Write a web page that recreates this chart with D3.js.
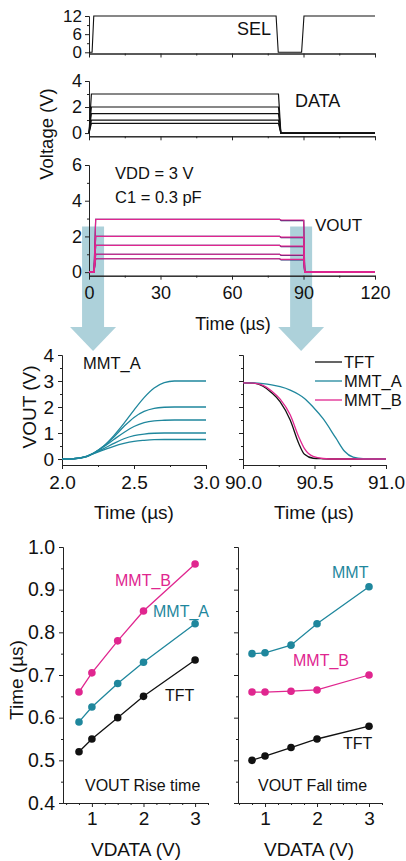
<!DOCTYPE html>
<html>
<head>
<meta charset="utf-8">
<script src="https://cdn.jsdelivr.net/npm/d3@7"></script>
<style>
  body { margin: 0; background: #fff; }
  svg { display: block; font-family: "Liberation Sans", Arial, sans-serif; }
  .axis path, .axis line { stroke: #222; stroke-width: 1; }
  .axis text { fill: #111; }
</style>
</head>
<body>
<svg width="406" height="861"></svg>
<script>
// ---- data ----
// top: waveforms vs time (us)
var selT = [0, 1.3, 2, 78.5, 79.4, 89.2, 90.2, 120];
var selV = [0, 0, 12, 12, 0, 0, 12, 12];

var dataT = [0, 1, 79.5, 80.5, 120];
var dataWave = [
  [0, 0.75, 0.75, 0, 0],
  [0, 1, 1, 0, 0],
  [0, 1.5, 1.5, 0, 0],
  [0, 2, 2, 0, 0],
  [0, 3, 3, 0, 0]
];

var voutT = [0, 2.1, 2.8, 80, 80.6, 90.1, 90.5, 120];
var voutDark = [
  [0, 0, 0.75, 0.75, 0.68, 0.68, 0, 0],
  [0, 0, 1, 1, 0.93, 0.93, 0, 0],
  [0, 0, 1.5, 1.5, 1.43, 1.43, 0, 0],
  [0, 0, 2, 2, 1.93, 1.93, 0, 0],
  [0, 0, 2.96, 2.96, 2.89, 2.89, 0, 0]
];
var voutPink = [
  [0, 0, 0.75, 0.75, 0.71, 0.71, 0, 0],
  [0, 0, 1, 1, 0.96, 0.96, 0, 0],
  [0, 0, 1.5, 1.5, 1.46, 1.46, 0, 0],
  [0, 0, 2, 2, 1.96, 1.96, 0, 0],
  [0, 0, 2.96, 2.96, 2.92, 2.92, 0, 0]
];

// middle left: MMT_A rise
var riseT = [2.0, 2.08, 2.17, 2.22, 2.29, 2.36, 2.43, 2.5, 2.57, 2.64, 2.71, 2.78, 3.0];
var riseCurves = [
  [0, 0.01, 0.1, 0.21, 0.35, 0.49, 0.6, 0.68, 0.72, 0.745, 0.75, 0.75, 0.75],
  [0, 0.01, 0.1, 0.22, 0.4, 0.6, 0.78, 0.9, 0.96, 0.99, 1.0, 1.0, 1.0],
  [0, 0.01, 0.1, 0.23, 0.47, 0.75, 1.02, 1.25, 1.4, 1.47, 1.49, 1.5, 1.5],
  [0, 0.01, 0.09, 0.23, 0.5, 0.85, 1.25, 1.6, 1.83, 1.95, 1.99, 2.0, 2.0],
  [0, 0.01, 0.08, 0.22, 0.5, 0.9, 1.37, 1.88, 2.36, 2.73, 2.94, 3.0, 3.0]
];

// middle right: fall
var fallT = [90.0, 90.07, 90.14, 90.2, 90.26, 90.33, 90.39, 90.43, 90.49, 90.56, 90.65, 90.71, 90.77, 90.84, 91.0];
var fallTFTc = [2.93, 2.92, 2.8, 2.55, 2.2, 1.5, 0.6, 0.18, 0.03, 0.01, 0, 0, 0, 0, 0];
var fallAc = [2.93, 2.93, 2.9, 2.85, 2.78, 2.65, 2.48, 2.33, 2.0, 1.55, 0.8, 0.3, 0.07, 0.01, 0];
var fallBc = [2.93, 2.92, 2.83, 2.62, 2.3, 1.7, 0.85, 0.4, 0.1, 0.02, 0, 0, 0, 0, 0];
var legendNames = ["TFT", "MMT_A", "MMT_B"];

// bottom: rise / fall time vs VDATA
var vdata = [0.75, 1, 1.5, 2, 3];
var riseTFT = [0.52, 0.55, 0.60, 0.65, 0.735];
var riseA = [0.59, 0.625, 0.68, 0.73, 0.82];
var riseB = [0.66, 0.705, 0.78, 0.85, 0.96];
var fallTFT = [0.50, 0.51, 0.53, 0.55, 0.58];
var fallA = [0.75, 0.752, 0.77, 0.82, 0.907];
var fallB = [0.66, 0.66, 0.662, 0.665, 0.70];

var TEAL = "#1f879d", PINK = "#e0268f", BLACK = "#111";
var FONT = "'Liberation Sans', Arial, sans-serif";

var svg = d3.select("svg");

function axes(x, y, o) {
  var y0 = y.range()[0], x0 = x.range()[0];
  svg.append("g").attr("class", "axis").attr("transform", "translate(0," + y0 + ")")
    .call(d3.axisBottom(x).tickValues(o.xMinor).tickSize(2).tickFormat("").tickSizeOuter(0));
  svg.append("g").attr("class", "axis").attr("transform", "translate(0," + y0 + ")")
    .call(d3.axisBottom(x).tickValues(o.xMajor).tickSize(4).tickPadding(o.xPad || 6)
      .tickFormat(o.xFmt || "").tickSizeOuter(0))
    .attr("font-family", FONT).attr("font-size", o.xFont || 18);
  svg.append("g").attr("class", "axis").attr("transform", "translate(" + x0 + ",0)")
    .call(d3.axisLeft(y).tickValues(o.yMinor).tickSize(2).tickFormat("").tickSizeOuter(0));
  svg.append("g").attr("class", "axis").attr("transform", "translate(" + x0 + ",0)")
    .call(d3.axisLeft(y).tickValues(o.yMajor).tickSize(4).tickPadding(o.yPad || 4)
      .tickFormat(o.yFmt || "").tickSizeOuter(0))
    .attr("font-family", FONT).attr("font-size", o.yFont || 18);
}

function label(x, y, txt, size, color, anchor, rot) {
  var t = svg.append("text")
    .attr("font-size", size).attr("fill", color || BLACK)
    .attr("text-anchor", anchor || "start")
    .text(txt);
  if (rot) t.attr("transform", "translate(" + x + "," + y + ") rotate(-90)");
  else t.attr("x", x).attr("y", y);
  return t;
}

function lineOf(x, y, xs, curve) {
  return d3.line()
    .x(function (d, i) { return x(xs[i]); })
    .y(function (d) { return y(d); })
    .curve(curve || d3.curveLinear);
}

// ---- top three panels ----
var xTop = d3.scaleLinear().domain([0, 120]).range([89, 375]);
var ySel = d3.scaleLinear().domain([-0.4, 12]).range([53.5, 16]);
var yData = d3.scaleLinear().domain([-0.25, 4]).range([136.3, 81]);
var yVout = d3.scaleLinear().domain([-0.2, 6]).range([275.7, 165]);

// light-blue arrows (behind everything)
var arrowT = [1.7, 89];
var arrowTop = yVout(2.55);
arrowT.forEach(function (t) {
  var cx = xTop(t);
  var pts = [[cx - 11, arrowTop], [cx + 11, arrowTop], [cx + 11, 327], [cx + 23, 327],
             [cx, 351], [cx - 23, 327], [cx - 11, 327]];
  svg.append("polygon").attr("points", pts.map(function (p) { return p.join(","); }).join(" "))
    .attr("fill", "#a9cfd8").attr("opacity", 0.95);
});

var topTicks = { xMajor: [0, 30, 60, 90, 120], xMinor: [15, 45, 75, 105] };

axes(xTop, ySel, { xMajor: topTicks.xMajor, xMinor: topTicks.xMinor,
  yMajor: [0, 6, 12], yMinor: [3, 9], yFmt: d3.format("d"), yFont: 17, yPad: 3 });
axes(xTop, yData, { xMajor: topTicks.xMajor, xMinor: topTicks.xMinor,
  yMajor: [0, 2, 4], yMinor: [1, 3], yFmt: d3.format("d"), yFont: 18, yPad: 3 });
axes(xTop, yVout, { xMajor: topTicks.xMajor, xMinor: topTicks.xMinor, xFmt: d3.format("d"), xPad: 7,
  yMajor: [0, 2, 4, 6], yMinor: [1, 3, 5], yFmt: d3.format("d"), yFont: 18, yPad: 3 });

svg.append("path").datum(selV).attr("d", lineOf(xTop, ySel, selT))
  .attr("fill", "none").attr("stroke", BLACK).attr("stroke-width", 1.1);

dataWave.forEach(function (w) {
  svg.append("path").datum(w).attr("d", lineOf(xTop, yData, dataT))
    .attr("fill", "none").attr("stroke", BLACK).attr("stroke-width", 1.2);
});

voutDark.forEach(function (w) {
  svg.append("path").datum(w).attr("d", lineOf(xTop, yVout, voutT))
    .attr("fill", "none").attr("stroke", "#2b2a6e").attr("stroke-width", 1.2);
});
voutPink.forEach(function (w) {
  svg.append("path").datum(w).attr("d", lineOf(xTop, yVout, voutT))
    .attr("fill", "none").attr("stroke", PINK).attr("stroke-width", 1.2);
});

label(237, 35, "SEL", 18);
label(295, 107, "DATA", 18);
label(315, 231, "VOUT", 17);
label(115, 179, "VDD = 3 V", 16.5);
label(115, 203, "C1 = 0.3 pF", 16.5);
label(53, 134, "Voltage (V)", 18.5, BLACK, "middle", true);
label(233, 330, "Time (\u00b5s)", 18, BLACK, "middle");

// ---- middle panels ----
var yMid = d3.scaleLinear().domain([-0.23, 4]).range([465, 355]);
var xRise = d3.scaleLinear().domain([2, 3]).range([62, 206]);
var xFall = d3.scaleLinear().domain([90, 91]).range([243, 386]);

axes(xRise, yMid, { xMajor: [2, 2.5, 3], xMinor: [2.25, 2.75], xFmt: d3.format(".1f"), xFont: 19, xPad: 7,
  yMajor: [0, 1, 2, 3, 4], yMinor: [0.5, 1.5, 2.5, 3.5], yFmt: d3.format("d"), yFont: 19, yPad: 4 });
axes(xFall, yMid, { xMajor: [90, 90.5, 91], xMinor: [90.25, 90.75], xFmt: d3.format(".1f"), xFont: 19, xPad: 7,
  yMajor: [0, 1, 2, 3, 4], yMinor: [0.5, 1.5, 2.5, 3.5] });

riseCurves.forEach(function (c) {
  svg.append("path").datum(c).attr("d", lineOf(xRise, yMid, riseT, d3.curveMonotoneX))
    .attr("fill", "none").attr("stroke", TEAL).attr("stroke-width", 1.3);
});

[[fallTFTc, BLACK], [fallAc, TEAL], [fallBc, PINK]].forEach(function (s) {
  svg.append("path").datum(s[0]).attr("d", lineOf(xFall, yMid, fallT, d3.curveMonotoneX))
    .attr("fill", "none").attr("stroke", s[1]).attr("stroke-width", 1.3);
});

var legColors = [BLACK, TEAL, PINK];
legendNames.forEach(function (n, i) {
  var ly = 362 + i * 19;
  svg.append("line").attr("x1", 315).attr("x2", 342).attr("y1", ly).attr("y2", ly)
    .attr("stroke", legColors[i]).attr("stroke-width", 1.3);
  label(344, ly + 6, n, 16.5);
});

label(83, 369, "MMT_A", 16.5);
label(36, 407, "VOUT (V)", 19, BLACK, "middle", true);
label(134, 519, "Time (\u00b5s)", 19, BLACK, "middle");
label(314, 519, "Time (\u00b5s)", 19, BLACK, "middle");

// ---- bottom panels ----
var yTime = d3.scaleLinear().domain([0.4, 1.0]).range([803, 547]);
var xL = d3.scaleLinear().domain([0.44, 3.25]).range([63, 208]);
var xR = d3.scaleLinear().domain([0.48, 3.25]).range([238, 382]);
var vMinor = [0.5, 0.75, 1.25, 1.5, 1.75, 2.25, 2.5, 2.75, 3.25];
var tMajor = [0.4, 0.5, 0.6, 0.7, 0.8, 0.9, 1.0];
var tMinor = [0.45, 0.55, 0.65, 0.75, 0.85, 0.95];

axes(xL, yTime, { xMajor: [1, 2, 3], xMinor: vMinor, xFmt: d3.format("d"), xFont: 19, xPad: 5,
  yMajor: tMajor, yMinor: tMinor, yFmt: d3.format(".1f"), yFont: 19.5, yPad: 4 });
axes(xR, yTime, { xMajor: [1, 2, 3], xMinor: vMinor, xFmt: d3.format("d"), xFont: 19, xPad: 5,
  yMajor: tMajor, yMinor: tMinor });

function series(x, vals, color) {
  svg.append("path").datum(vals).attr("d", lineOf(x, yTime, vdata))
    .attr("fill", "none").attr("stroke", color).attr("stroke-width", 1.3);
  svg.selectAll(null).data(vals).enter().append("circle")
    .attr("cx", function (d, i) { return x(vdata[i]); })
    .attr("cy", function (d) { return yTime(d); })
    .attr("r", 3.8).attr("fill", color);
}
series(xL, riseTFT, BLACK);
series(xL, riseA, TEAL);
series(xL, riseB, PINK);
series(xR, fallTFT, BLACK);
series(xR, fallA, TEAL);
series(xR, fallB, PINK);

label(115, 586, "MMT_B", 16, PINK);
label(153, 617, "MMT_A", 16, TEAL);
label(165, 701, "TFT", 16);
label(85, 791, "VOUT Rise time", 16);
label(332, 578, "MMT", 16, TEAL);
label(293, 666, "MMT_B", 16, PINK);
label(343, 749, "TFT", 16);
label(258, 791, "VOUT Fall time", 16);
label(23, 680, "Time (\u00b5s)", 19, BLACK, "middle", true);
label(136, 856, "VDATA (V)", 19, BLACK, "middle");
label(309, 856, "VDATA (V)", 19, BLACK, "middle");
</script>
</body>
</html>
